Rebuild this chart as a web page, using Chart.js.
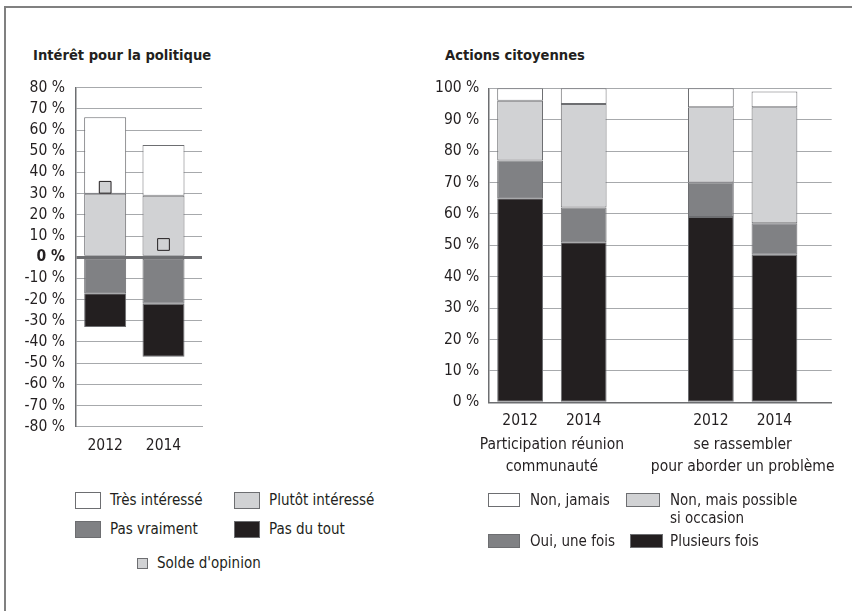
<!DOCTYPE html>
<html>
<head>
<meta charset="utf-8">
<script src="https://cdn.jsdelivr.net/npm/chart.js@4.4.1/dist/chart.umd.min.js"></script>
<style>
  html, body { margin: 0; padding: 0; background: #fff; }
  body { width: 852px; height: 611px; position: relative; overflow: hidden;
         font-family: 'DejaVu Sans Condensed', 'DejaVu Sans', sans-serif; color: #231f20; }
  .frame { position: absolute; left: 4px; top: 6px; right: -4px; bottom: -4px;
           border-top: 2px solid #808080; border-left: 2px solid #808080; }
  .title { position: absolute; font-weight: bold; font-size: 14.6px; line-height: 20px; white-space: nowrap; }
  canvas { position: absolute; }
  .lg { position: absolute; font-size: 15px; line-height: 18px; white-space: nowrap; }
  .lg .box { position: absolute; box-sizing: border-box; border: 1px solid #6d6e71; }
  .lg .txt { position: absolute; }
</style>
</head>
<body>
<div class="frame"></div>
<div class="title" style="left:33px; top:45px;">Intérêt pour la politique</div>
<div class="title" style="left:445px; top:45px;">Actions citoyennes</div>
<canvas id="left" width="230" height="420" style="left:0px; top:60px;"></canvas>
<canvas id="right" width="452" height="440" style="left:400px; top:60px;"></canvas>
<div id="legendLeft"></div>
<div id="legendRight"></div>
<script>
// ---------- Data: Intérêt pour la politique ----------
const leftYears = ["2012", "2014"];
const tresInteresse = [36, 24];
const plutotInteresse = [30, 29];
const pasVraiment = [-17, -22];
const pasDuTout = [-16, -25];
const soldeOpinion = [33, 6];

// ---------- Data: Actions citoyennes ----------
const groupLabels = [["Participation réunion", "communauté"], ["se rassembler", "pour aborder un problème"]];
const rightYears = ["2012", "2014"];
const plusieursFois = [65, 51, 59, 47];
const ouiUneFois = [12, 11, 11, 10];
const nonMaisPossible = [19, 33, 24, 37];
const nonJamais = [4, 5, 6, 5];

// ---------- Styling ----------
const C_WHITE = '#ffffff', C_LIGHT = '#d1d2d4', C_MID = '#808184', C_DARK = '#231f20';
const BORDER = '#6d6e71', GRID = '#a7a9ac', TEXT = '#231f20';
const FONT = "'DejaVu Sans Condensed', 'DejaVu Sans', sans-serif";
const FS = 15.5;
Chart.defaults.font.family = FONT;
Chart.defaults.font.size = FS;
Chart.defaults.color = TEXT;

function barDs(label, values, color, xs) {
  return {
    type: 'bar', label, backgroundColor: color, borderColor: BORDER, borderWidth: 1,
    borderSkipped: false,
    data: values.map((v, i) => ({ x: xs[i], y: v }))
  };
}

// ---------- Left chart ----------
const leftXs = leftYears.map((_, i) => i);
new Chart(document.getElementById('left'), {
  type: 'bar',
  data: {
    datasets: [
      barDs('Plutôt intéressé', plutotInteresse, C_LIGHT, leftXs),
      barDs('Très intéressé', tresInteresse, C_WHITE, leftXs),
      barDs('Pas vraiment', pasVraiment, C_MID, leftXs),
      barDs('Pas du tout', pasDuTout, C_DARK, leftXs),
      {
        type: 'line', label: "Solde d'opinion", showLine: false, order: -1,
        pointStyle: 'rect', pointRadius: 8.3, pointHoverRadius: 8.3,
        pointBackgroundColor: C_LIGHT, pointBorderColor: C_DARK, pointBorderWidth: 1,
        backgroundColor: C_LIGHT, borderColor: C_DARK,
        data: soldeOpinion.map((v, i) => ({ x: leftXs[i], y: v }))
      }
    ]
  },
  options: {
    responsive: false, animation: false,
    layout: { padding: { top: 27.7, bottom: 13.3, left: 0, right: 28 } },
    plugins: { legend: { display: false }, tooltip: { enabled: false } },
    scales: {
      x: {
        type: 'linear', stacked: true, min: -0.5, max: 1.66, offset: false, bounds: 'data',
        afterBuildTicks: (s) => { s.ticks = leftXs.map(v => ({ value: v })); },
        afterFit: (s) => { s.height = 40; },
        grid: { display: false, drawTicks: false, offset: false },
        border: { display: true, color: GRID, width: 1 },
        ticks: { padding: 10, autoSkip: false, maxRotation: 0, callback: (v) => leftYears[v] ?? '' }
      },
      y: {
        stacked: true, min: -80, max: 80,
        afterFit: (s) => { s.width = 76; },
        grid: {
          drawTicks: false,
          color: (ctx) => ctx.tick && ctx.tick.value === 0 ? BORDER : GRID,
          lineWidth: (ctx) => ctx.tick && ctx.tick.value === 0 ? 3 : 1
        },
        border: { display: true, color: BORDER, width: 1.5 },
        ticks: {
          stepSize: 10, padding: 11, autoSkip: false,
          font: (ctx) => ({ family: FONT, size: FS, weight: ctx.tick && ctx.tick.value === 0 ? 'bold' : 'normal' }),
          callback: (v) => v + ' %'
        }
      }
    }
  }
});

// ---------- Right chart ----------
const rightXs = [];
groupLabels.forEach((g, gi) => rightYears.forEach((y, yi) => rightXs.push(gi * (rightYears.length + 1) + yi)));
const groupCenters = groupLabels.map((g, gi) => gi * (rightYears.length + 1) + (rightYears.length - 1) / 2);
new Chart(document.getElementById('right'), {
  type: 'bar',
  data: {
    datasets: [
      barDs('Plusieurs fois', plusieursFois, C_DARK, rightXs),
      barDs('Oui, une fois', ouiUneFois, C_MID, rightXs),
      barDs('Non, mais possible si occasion', nonMaisPossible, C_LIGHT, rightXs),
      barDs('Non, jamais', nonJamais, C_WHITE, rightXs)
    ]
  },
  options: {
    responsive: false, animation: false,
    layout: { padding: { top: 28.3, bottom: 9.7, left: 0, right: 20.3 } },
    plugins: { legend: { display: false }, tooltip: { enabled: false } },
    scales: {
      x: {
        type: 'linear', stacked: true, min: -0.5, max: 4.9, weight: 0, offset: false, bounds: 'data',
        afterBuildTicks: (s) => { s.ticks = rightXs.map(v => ({ value: v })); },
        afterFit: (s) => { s.height = 28; },
        grid: { display: false, drawTicks: false, offset: false },
        border: { display: true, color: BORDER, width: 1.5 },
        ticks: { padding: 9, autoSkip: false, maxRotation: 0,
          callback: (v) => { const i = rightXs.indexOf(v); return i >= 0 ? rightYears[i % rightYears.length] : ''; } }
      },
      x2: {
        type: 'linear', position: 'bottom', min: -0.5, max: 4.9, weight: 1, offset: false, bounds: 'data',
        afterBuildTicks: (s) => { s.ticks = groupCenters.map(v => ({ value: v })); },
        afterFit: (s) => { s.height = 60; },
        grid: { display: false, drawTicks: false, offset: false },
        border: { display: false },
        ticks: { padding: 3.5, autoSkip: false, maxRotation: 0,
          font: { family: FONT, size: FS, lineHeight: 1.42 },
          callback: (v) => { const i = groupCenters.indexOf(v); return i >= 0 ? groupLabels[i] : ''; } }
      },
      y: {
        stacked: true, min: 0, max: 100,
        afterFit: (s) => { s.width = 88.3; },
        grid: { drawTicks: false, color: GRID, lineWidth: 1 },
        border: { display: true, color: BORDER, width: 1.5 },
        ticks: { stepSize: 10, padding: 9, autoSkip: false, callback: (v) => v + ' %' }
      }
    }
  }
});

// ---------- HTML legends ----------
function legendItem(parent, label, color, bx, by, bw, bh, tx, ty) {
  const el = document.createElement('div');
  el.className = 'lg';
  el.style.left = '0px'; el.style.top = '0px';
  const box = document.createElement('div');
  box.className = 'box';
  Object.assign(box.style, { left: bx + 'px', top: by + 'px', width: bw + 'px', height: bh + 'px', background: color });
  const t = document.createElement('div');
  t.className = 'txt';
  t.style.left = tx + 'px'; t.style.top = ty + 'px';
  t.innerHTML = label;
  el.appendChild(box); el.appendChild(t);
  parent.appendChild(el);
}
const ll = document.getElementById('legendLeft');
legendItem(ll, 'Très intéressé', C_WHITE, 75, 492, 26, 17, 110, 491);
legendItem(ll, 'Plutôt intéressé', C_LIGHT, 234, 492, 26, 17, 269, 491);
legendItem(ll, 'Pas vraiment', C_MID, 75, 521, 26, 17, 110, 520);
legendItem(ll, 'Pas du tout', C_DARK, 234, 521, 26, 17, 269, 520);
legendItem(ll, "Solde d'opinion", C_LIGHT, 137, 558, 11, 11, 157, 554);

const lr = document.getElementById('legendRight');
legendItem(lr, 'Non, jamais', C_WHITE, 488, 493, 32, 14, 530, 491);
legendItem(lr, 'Non, mais possible<br>si occasion', C_LIGHT, 626, 493, 34, 14, 670, 491);
legendItem(lr, 'Oui, une fois', C_MID, 488, 534, 32, 14, 530, 532);
legendItem(lr, 'Plusieurs fois', C_DARK, 630, 534, 33, 14, 670, 532);
</script>
</body>
</html>
